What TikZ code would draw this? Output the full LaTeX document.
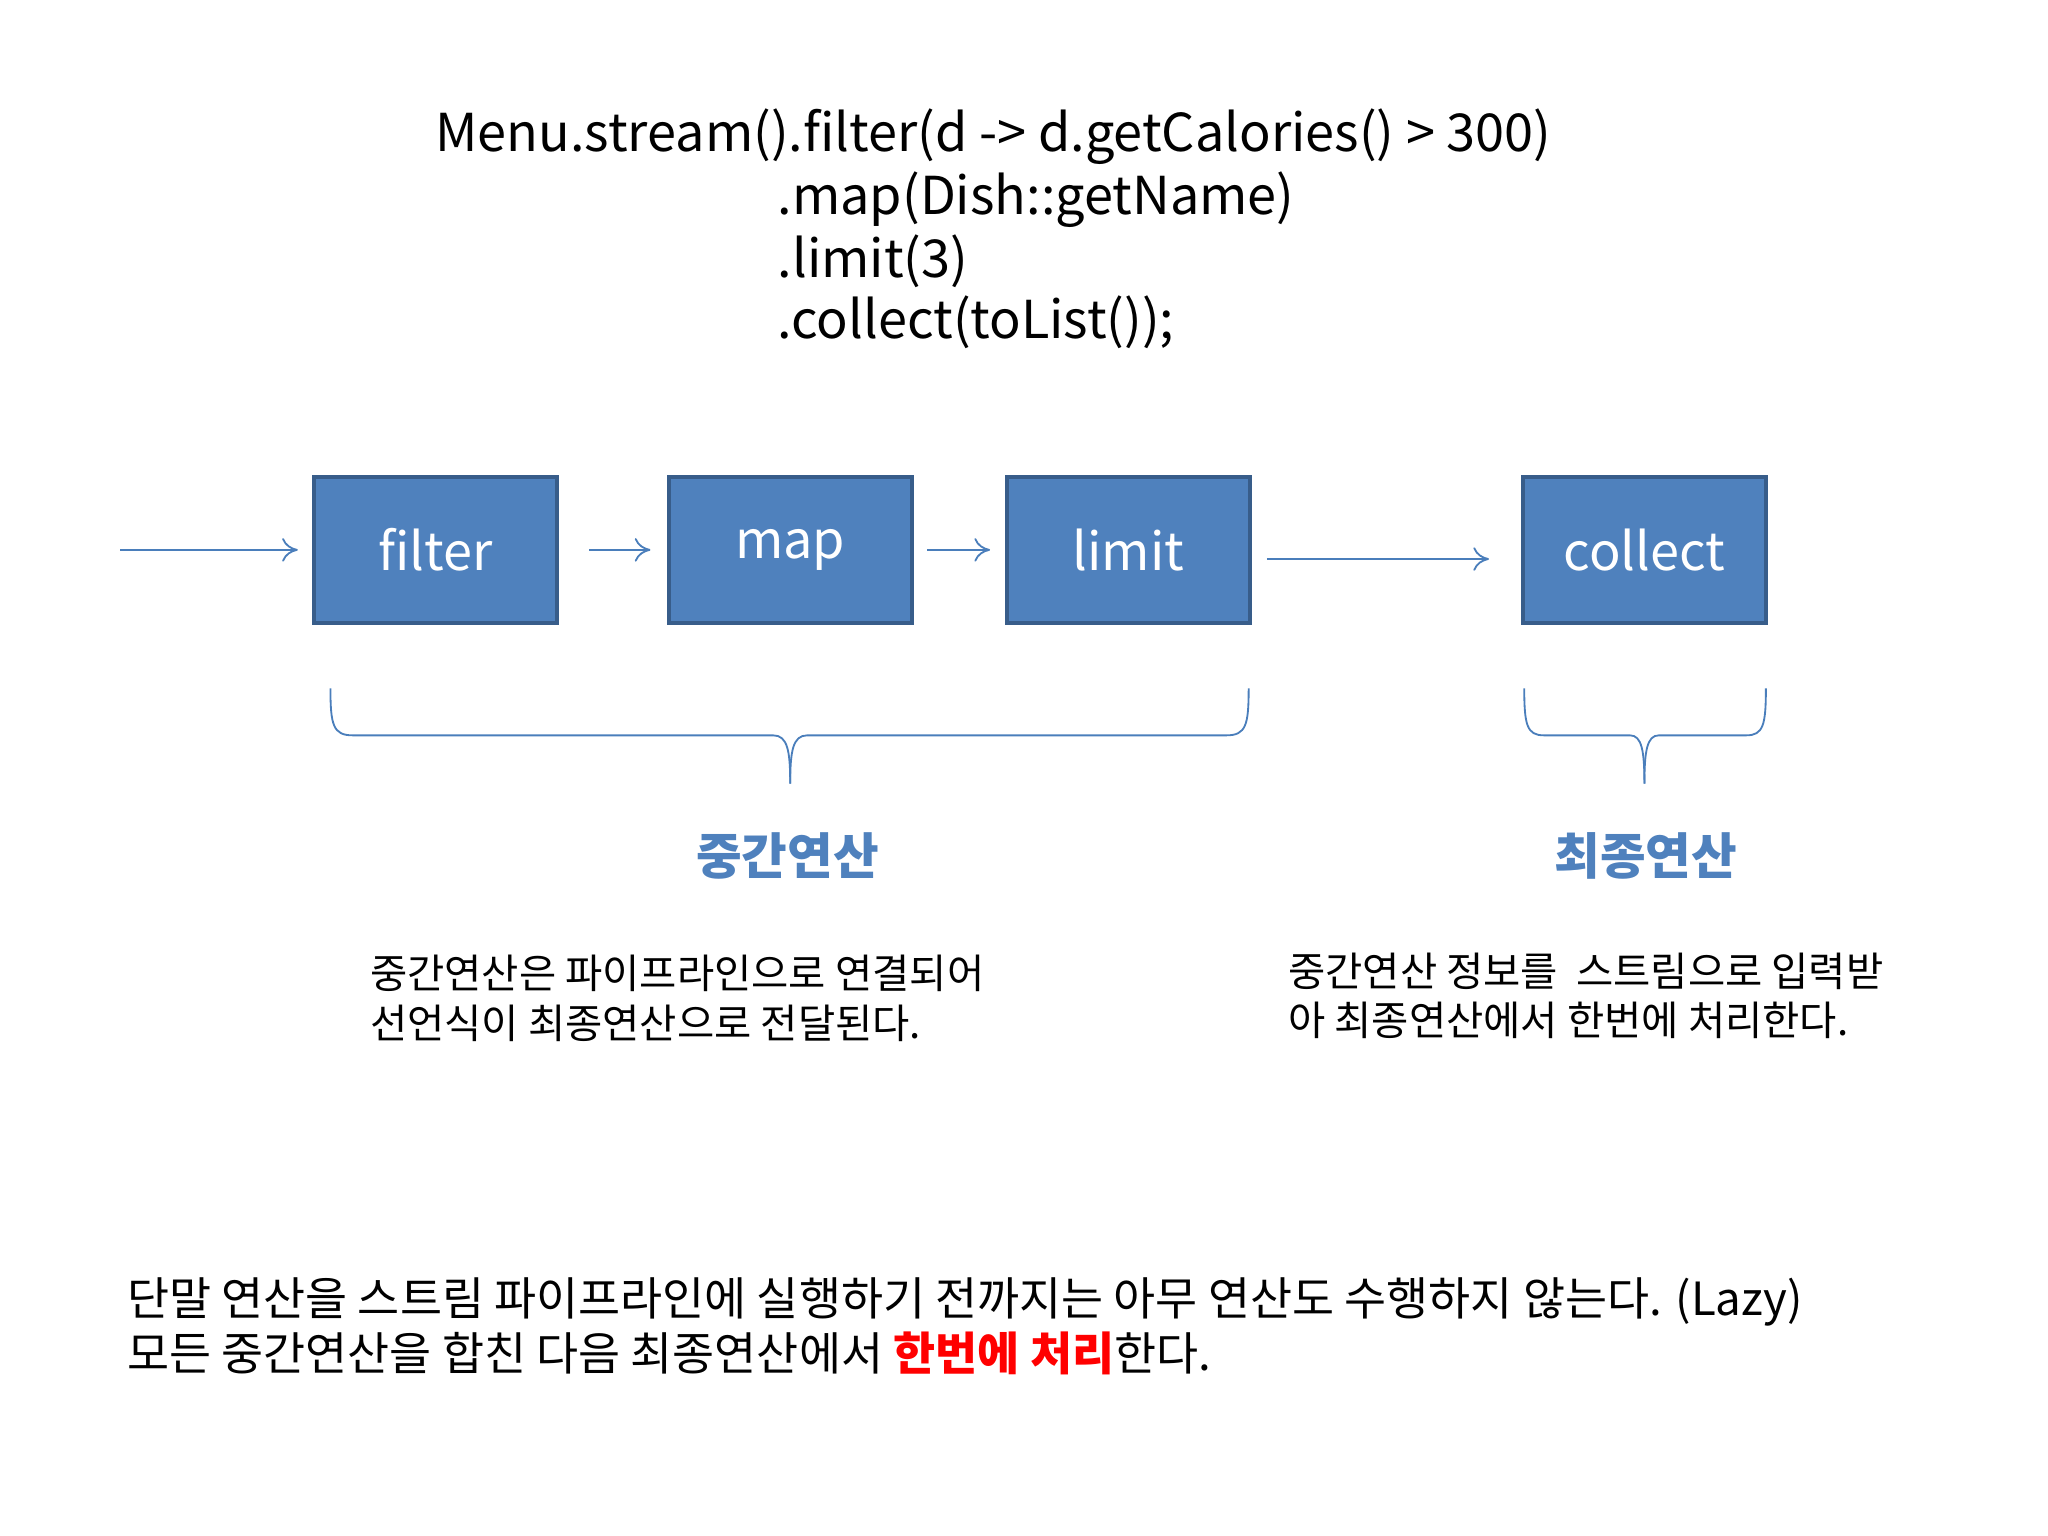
\documentclass[tikz,border=0pt]{standalone}
\usepackage{fontspec}
\setmainfont{Noto Sans CJK KR}
\usetikzlibrary{arrows.meta}
\definecolor{boxfill}{HTML}{4F81BD}
\definecolor{boxline}{HTML}{385D8A}
\definecolor{arr}{HTML}{4A7EBB}
\definecolor{lab}{HTML}{4F81BD}
\begin{document}
\begin{tikzpicture}[x=0.5pt,y=-0.5pt,
  op/.style={draw=boxline,line width=1.5pt,fill=boxfill,text=white,minimum width=93pt,minimum height=56pt,inner sep=0pt,font=\fontsize{20}{24}\selectfont},
  flow/.style={arr,line width=0.7pt,-{To[length=6pt,width=9pt]}},
  brace/.style={arr,line width=0.7pt},
  code/.style={anchor=west,inner sep=0pt,font=\fontsize{20}{24}\selectfont},
  lbl/.style={text=lab,font=\fontsize{19}{22}\selectfont\bfseries},
  desc/.style={anchor=north west,align=left,inner sep=0pt,font=\fontsize{15.5}{19}\selectfont},
  bot/.style={anchor=north west,align=left,inner sep=0pt,font=\fontsize{17.5}{21}\selectfont}]
\useasboundingbox (0,0) rectangle (1568,1176);
\node[code] (c1) at (333,105) {Menu.stream().filter(d -> d.getCalories() > 300)};
\node[code] (c2) at (595,153) {.map(Dish::getName)};
\node[code] (c3) at (595,200) {.limit(3)};
\node[code] (c4) at (595,247) {.collect(toList());};
\node[op] (f) at (333.5,421) {filter};
\node[op] (m) at (605,421) {map};
\node[op] (l) at (864,421) {limit};
\node[op] (c) at (1259,421) {collect};
\coordinate (s) at (92,421);
\draw[flow] (s) -- (228,421);
\draw[flow] (451,421) -- (498,421);
\draw[flow] (710,421) -- (758,421);
\draw[flow] (970,428) -- (1140,428);
\draw[brace] (253,527) .. controls (253,555) and (255,563) .. (270,563) -- (592,563) .. controls (603,563) and (605,575) .. (605,600);
\draw[brace] (956,527) .. controls (956,555) and (954,563) .. (939,563) -- (618,563) .. controls (607,563) and (605,575) .. (605,600);
\draw[brace] (1167,527) .. controls (1167,555) and (1169,563) .. (1182,563) -- (1248,563) .. controls (1257,563) and (1259,575) .. (1259,600);
\draw[brace] (1352,527) .. controls (1352,555) and (1350,563) .. (1337,563) -- (1270,563) .. controls (1261,563) and (1259,575) .. (1259,600);
\node[lbl] (l1) at (603,655) {중간연산};
\node[lbl] (l2) at (1260,655) {최종연산};
\node[desc] (d1) at (283,731) {중간연산은 파이프라인으로 연결되어\\선언식이 최종연산으로 전달된다.};
\node[desc] (d2) at (986,729) {중간연산 정보를 \ 스트림으로 입력받\\아 최종연산에서 한번에 처리한다.};
\node[bot] (b) at (97,978) {단말 연산을 스트림 파이프라인에 실행하기 전까지는 아무 연산도 수행하지 않는다. (Lazy)\\모든 중간연산을 합친 다음 최종연산에서 {\color{red}\bfseries 한번에 처리}한다.};
\end{tikzpicture}
\end{document}
